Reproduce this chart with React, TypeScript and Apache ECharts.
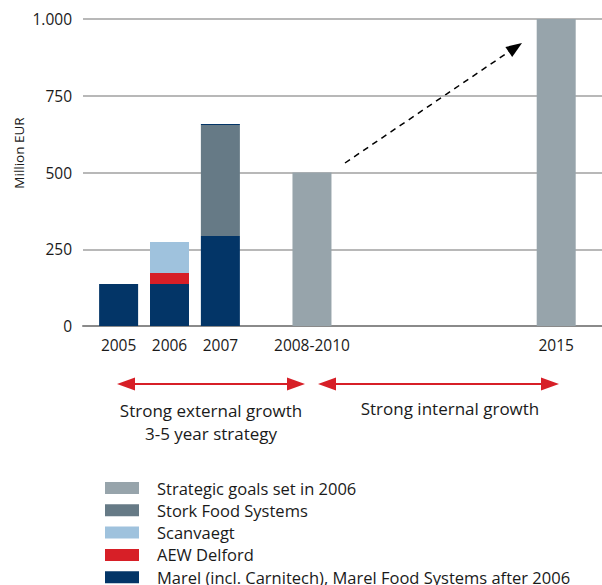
import React, { useEffect, useRef } from "react";
import * as echarts from "echarts";

// Categories shown on the x axis and their slot index in a 51-slot band axis
const categories = ["2005", "2006", "2007", "2008-2010", "2015"];
const slotIndex = [3, 8, 13, 22, 46];
const totalSlots = 51;

// Series values (Million EUR), one entry per category
const marel = [137, 137, 293, null, null];
const aewDelford = [null, 36, null, null, null];
const scanvaegt = [null, 101, null, null, null];
const stork = [null, null, 362, null, null];
const marelTop = [null, null, 3, null, null];
const strategic = [null, null, null, 500, 1000];

const yTicks = [0, 250, 500, 750, 1000];

const COLORS = {
  strategic: "#97a4ab",
  stork: "#667a86",
  scanvaegt: "#9fc2dd",
  aew: "#d71f27",
  marel: "#033567",
};

const FONT = "'Open Sans', 'Noto Sans', sans-serif";

function spread(vals: (number | null)[]) {
  const out: (number | string)[] = new Array(totalSlots).fill("-");
  vals.forEach((v, i) => {
    if (v !== null) out[slotIndex[i]] = v;
  });
  return out;
}

export default function App() {
  const ref = useRef<HTMLDivElement>(null);
  useEffect(() => {
    document.body.style.margin = "0";
    if (!ref.current) return;
    const chart = echarts.init(ref.current, undefined, { renderer: "svg" });
    const xCats: string[] = new Array(totalSlots).fill("");
    slotIndex.forEach((s, i) => (xCats[s] = categories[i]));

    const bar = (name: string, data: (number | null)[], color: string) => ({
      name,
      type: "bar",
      stack: "total",
      barWidth: 39,
      data: spread(data),
      itemStyle: { color },
      emphasis: { disabled: true },
    });

    const redArrow = (x1: number, x2: number, y: number) => [
      {
        type: "line",
        shape: { x1: x1 + 14, y1: y, x2: x2 - 14, y2: y },
        style: { stroke: COLORS.aew, lineWidth: 2 },
      },
      {
        type: "polygon",
        shape: { points: [[x1, y], [x1 + 18, y - 6.5], [x1 + 18, y + 6.5]] },
        style: { fill: COLORS.aew },
      },
      {
        type: "polygon",
        shape: { points: [[x2, y], [x2 - 18, y - 6.5], [x2 - 18, y + 6.5]] },
        style: { fill: COLORS.aew },
      },
    ];

    const label = (text: string, x: number, y: number) => ({
      type: "text",
      x,
      y,
      style: {
        text,
        fontFamily: FONT,
        fontSize: 17,
        fill: "#1a1a1a",
        align: "center",
        verticalAlign: "middle",
      },
    });

    chart.setOption({
      animation: false,
      grid: { left: 83, right: 0, top: 19, bottom: 259 },
      xAxis: {
        type: "category",
        data: xCats,
        boundaryGap: true,
        axisTick: { show: false },
        axisLine: { show: true, lineStyle: { color: "#8a8a8a", width: 2 } },
        axisLabel: {
          interval: 0,
          margin: 11,
          fontFamily: FONT,
          fontSize: 15.5,
          color: "#1a1a1a",
        },
      },
      yAxis: {
        type: "value",
        min: 0,
        max: 1000,
        interval: 250,
        axisLine: { show: false },
        axisTick: { show: false },
        splitLine: { lineStyle: { color: "#a0a0a0", width: 1.5 } },
        axisLabel: {
          margin: 11,
          fontFamily: FONT,
          fontSize: 15.5,
          color: "#1a1a1a",
          formatter: (v: number) =>
            yTicks.includes(v) ? (v >= 1000 ? "1.000" : String(v)) : "",
        },
      },
      legend: {
        orient: "vertical",
        left: 105,
        top: 479.5,
        height: 140,
        padding: 0,
        icon: "rect",
        itemWidth: 34,
        itemHeight: 12,
        itemGap: 5.3,
        selectedMode: false,
        data: [
          "Strategic goals set in 2006",
          "Stork Food Systems",
          "Scanvaegt",
          "AEW Delford",
          "Marel (incl. Carnitech), Marel Food Systems after 2006",
        ],
        textStyle: {
          fontFamily: FONT,
          fontSize: 16.5,
          color: "#1a1a1a",
          padding: [0, 0, 0, 13],
          lineHeight: 17,
        },
      },
      series: [
        bar("Marel (incl. Carnitech), Marel Food Systems after 2006", marel, COLORS.marel),
        bar("AEW Delford", aewDelford, COLORS.aew),
        bar("Scanvaegt", scanvaegt, COLORS.scanvaegt),
        bar("Stork Food Systems", stork, COLORS.stork),
        bar("Marel top", marelTop, COLORS.marel),
        bar("Strategic goals set in 2006", strategic, COLORS.strategic),
      ],
      graphic: [
        {
          type: "text",
          x: 19,
          y: 153,
          rotation: Math.PI / 2,
          style: {
            text: "Million EUR",
            fontFamily: FONT,
            fontSize: 13.5,
            fill: "#1a1a1a",
            align: "center",
            verticalAlign: "middle",
          },
        },
        {
          type: "line",
          shape: { x1: 345, y1: 163, x2: 510, y2: 51 },
          style: { stroke: "#000", lineWidth: 1.5, lineDash: [6, 5] },
        },
        {
          type: "polygon",
          shape: { points: [[522, 43], [512.2, 57], [505.4, 47]] },
          style: { fill: "#000" },
        },
        ...redArrow(117, 305, 384),
        ...redArrow(318, 559, 384),
        label("Strong external growth", 211, 410),
        label("3-5 year strategy", 211, 433),
        label("Strong internal growth", 450, 408),
      ],
    });
    return () => chart.dispose();
  }, []);
  return <div ref={ref} style={{ width: 602, height: 585 }} />;
}
